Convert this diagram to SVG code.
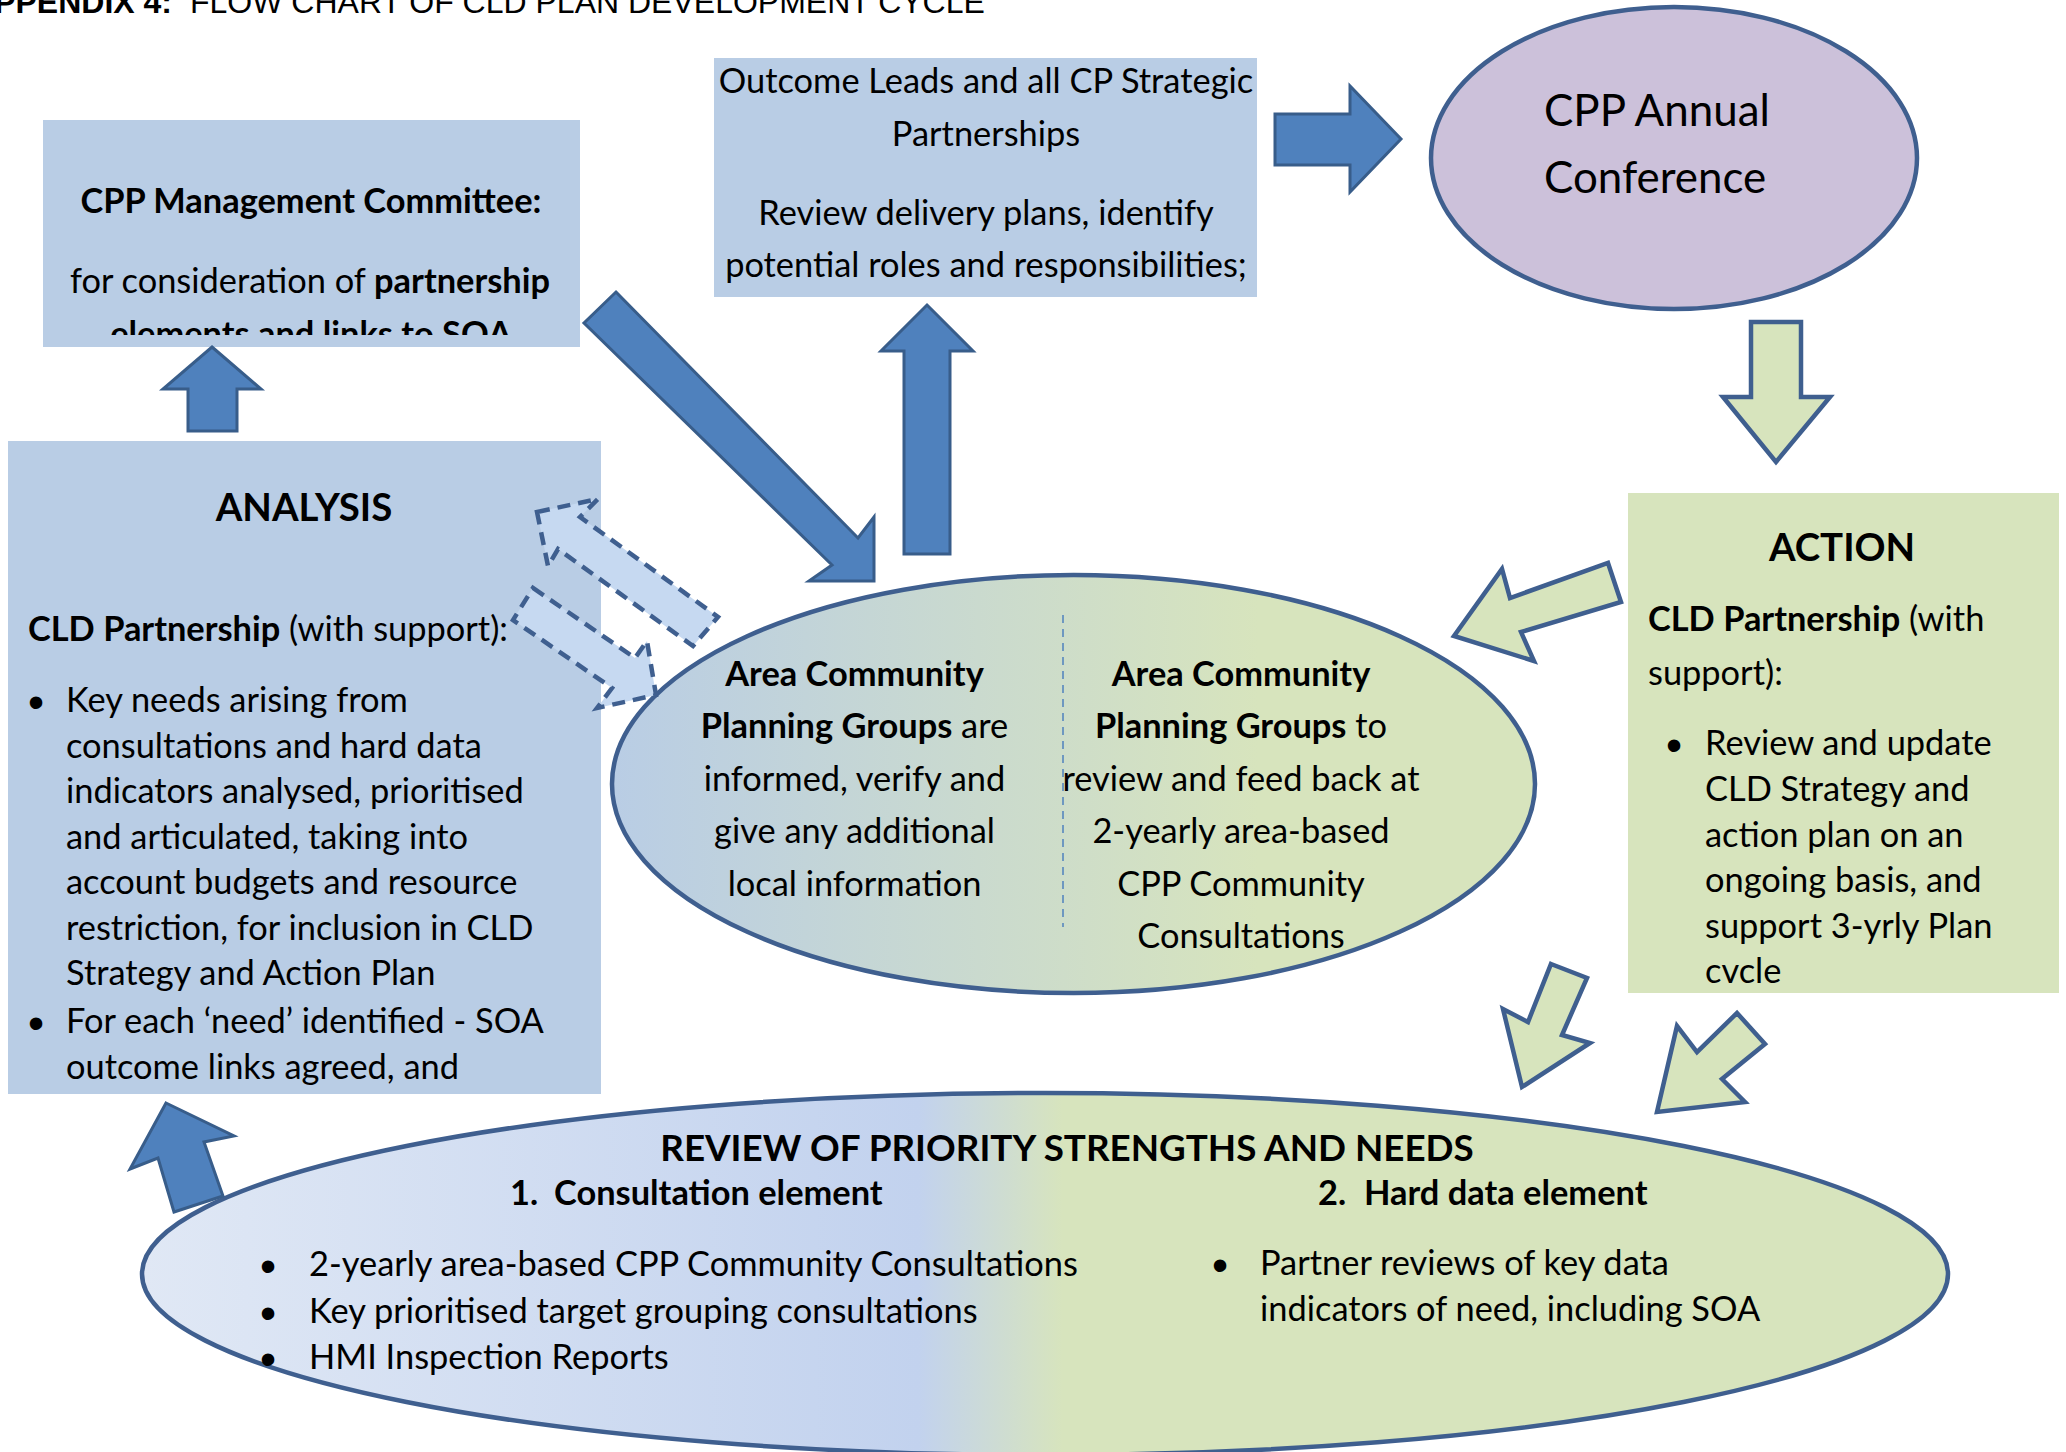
<svg xmlns="http://www.w3.org/2000/svg" width="2066" height="1452" viewBox="0 0 2066 1452">
<defs>
  <linearGradient id="gMid" x1="0" y1="0" x2="1" y2="0">
    <stop offset="0" stop-color="#B9CDE5"/>
    <stop offset="0.7" stop-color="#D7E4BD"/>
    <stop offset="1" stop-color="#D7E4BD"/>
  </linearGradient>
  <linearGradient id="gRev" x1="0" y1="0" x2="1" y2="0">
    <stop offset="0" stop-color="#E0E8F5"/>
    <stop offset="0.43" stop-color="#C2D2EE"/>
    <stop offset="0.51" stop-color="#D7E4BD"/>
    <stop offset="1" stop-color="#D7E4BD"/>
  </linearGradient>
  <clipPath id="clipMgmt"><rect x="43" y="120" width="537" height="215"/></clipPath>
</defs>
<style>
  .t{font-family:Lato,"Open Sans",sans-serif;font-size:34.4px;fill:#000}
  .b{font-weight:bold}
  .c{text-anchor:middle}
  .h{font-size:38.4px}
  .bul{font-family:"Liberation Sans",Arial,sans-serif;font-size:46px;text-anchor:middle}
  .boxb{fill:#B9CDE5}
  .boxg{fill:#D7E4BD}
  .ell{stroke:#3F5F8F;stroke-width:4.5}
  .ab{fill:#4F81BD;stroke:#385D8A;stroke-width:3}
  .ag{fill:#D7E4BD;stroke:#3F5F8F;stroke-width:4.5}
  .ad{fill:#C6D9F1;stroke:#3F5F8F;stroke-width:4.5;stroke-dasharray:13 8}
</style>
<rect width="2066" height="1452" fill="#FFFFFF"/>

<g id="title">
  <text x="172" y="13" font-family="'Liberation Sans',Arial,sans-serif" font-size="32" font-weight="bold" text-anchor="end">APPENDIX 4:</text>
  <text x="190" y="13" font-family="'Liberation Sans',Arial,sans-serif" font-size="32">FLOW CHART OF CLD PLAN DEVELOPMENT CYCLE</text>
</g>

<g id="mgmt">
  <rect class="boxb" x="43" y="120" width="537" height="227"/>
  <g clip-path="url(#clipMgmt)">
    <text class="t b c" x="311" y="213">CPP Management Committee:</text>
    <text class="t c" x="310" y="293">for consideration of <tspan class="b">partnership</tspan></text>
    <text class="t b c" x="311" y="346">elements and links to SOA</text>
  </g>
</g>

<g id="outcome">
  <rect class="boxb" x="714" y="58" width="543" height="239"/>
  <text class="t c" x="986" y="93">Outcome Leads and all CP Strategic</text>
  <text class="t c" x="986" y="146">Partnerships</text>
  <text class="t c" x="986" y="225">Review delivery plans, identify</text>
  <text class="t c" x="986" y="277">potential roles and responsibilities;</text>
</g>

<g id="conference">
  <ellipse class="ell" cx="1674" cy="158" rx="243" ry="151" fill="#CCC1DA"/>
  <text class="t" x="1544" y="126" style="font-size:43.9px">CPP Annual</text>
  <text class="t" x="1544" y="193" style="font-size:43.9px">Conference</text>
</g>

<g id="analysis">
  <rect class="boxb" x="8" y="441" width="593" height="653"/>
  <text class="t b c h" x="304" y="521">ANALYSIS</text>
  <text class="t" x="28" y="641"><tspan class="b">CLD Partnership</tspan> (with support):</text>
  <text class="bul" x="36" y="718">•</text>
  <text class="t" x="66" y="712">Key needs arising from</text>
  <text class="t" x="66" y="757.5">consultations and hard data</text>
  <text class="t" x="66" y="803">indicators analysed, prioritised</text>
  <text class="t" x="66" y="848.5">and articulated, taking into</text>
  <text class="t" x="66" y="894">account budgets and resource</text>
  <text class="t" x="66" y="939.5">restriction, for inclusion in CLD</text>
  <text class="t" x="66" y="985">Strategy and Action Plan</text>
  <text class="bul" x="36" y="1039">•</text>
  <text class="t" x="66" y="1033">For each ‘need’ identified - SOA</text>
  <text class="t" x="66" y="1079">outcome links agreed,  and</text>
</g>

<g id="action">
  <rect class="boxg" x="1628" y="493" width="431" height="500"/>
  <text class="t b c h" x="1842" y="561">ACTION</text>
  <text class="t" x="1648" y="631"><tspan class="b">CLD Partnership</tspan> (with</text>
  <text class="t" x="1648" y="685">support):</text>
  <text class="bul" x="1674" y="761">•</text>
  <text class="t" x="1705" y="755">Review and update</text>
  <text class="t" x="1705" y="801">CLD Strategy and</text>
  <text class="t" x="1705" y="847">action plan on an</text>
  <text class="t" x="1705" y="892">ongoing basis, and</text>
  <text class="t" x="1705" y="938">support 3-yrly Plan</text>
  <text class="t" x="1705" y="983">cvcle</text>
</g>

<g id="area-groups">
  <ellipse class="ell" cx="1073.5" cy="784" rx="461.5" ry="209" fill="url(#gMid)"/>
  <line x1="1063" y1="615" x2="1063" y2="927" stroke="#4F81BD" stroke-width="1.5" stroke-dasharray="8 6"/>
  <text class="t b c" x="854.5" y="686">Area Community</text>
  <text class="t c" x="854.5" y="738"><tspan class="b">Planning Groups</tspan> are</text>
  <text class="t c" x="854.5" y="791">informed, verify and</text>
  <text class="t c" x="854.5" y="843">give any additional</text>
  <text class="t c" x="854.5" y="896">local information</text>
  <text class="t b c" x="1241" y="686">Area Community</text>
  <text class="t c" x="1241" y="738"><tspan class="b">Planning Groups</tspan> to</text>
  <text class="t c" x="1241" y="791">review and feed back at</text>
  <text class="t c" x="1241" y="843">2-yearly area-based</text>
  <text class="t c" x="1241" y="896">CPP Community</text>
  <text class="t c" x="1241" y="948">Consultations</text>
</g>

<g id="review">
  <ellipse class="ell" cx="1045" cy="1274" rx="903" ry="181" fill="url(#gRev)"/>
  <text class="t b c" x="1067" y="1161" style="font-size:36.8px">REVIEW OF PRIORITY STRENGTHS AND NEEDS</text>
  <text class="t b" x="510" y="1205">1.</text>
  <text class="t b" x="554" y="1205">Consultation element</text>
  <text class="t b" x="1318" y="1205">2.</text>
  <text class="t b" x="1364" y="1205">Hard data element</text>
  <text class="bul" x="268" y="1282">•</text>
  <text class="t" x="309" y="1276">2-yearly area-based CPP Community Consultations</text>
  <text class="bul" x="268" y="1329">•</text>
  <text class="t" x="309" y="1323">Key prioritised target grouping consultations</text>
  <text class="bul" x="268" y="1375">•</text>
  <text class="t" x="309" y="1369">HMI Inspection Reports</text>
  <text class="bul" x="1220" y="1281">•</text>
  <text class="t" x="1260" y="1275">Partner reviews of key data</text>
  <text class="t" x="1260" y="1321">indicators of need, including SOA</text>
</g>

<g id="connectors">
  <polygon class="ab" points="212,347 261,389 237,389 237,431 188,431 188,389 163,389"/>
  <polygon class="ab" points="616,292 858,538 874,517 874,581 809,581 832,565 584,323"/>
  <polygon class="ab" points="927,305 973,351 950,351 950,554 904,554 904,351 881,351"/>
  <polygon class="ab" points="1275,114 1350,114 1350,86 1401,139 1350,192 1350,165 1275,165"/>
  <polygon class="ab" points="166,1103 234,1136 204,1142 223,1196 174,1212 158,1158 130,1169"/>
  <polygon class="ag" points="1751,322 1801,322 1801,397 1830,397 1776,462 1723,397 1751,397"/>
  <polygon class="ag" points="1608,563 1621,602 1521,632 1534,661 1454,636 1502,569 1510,598"/>
  <polygon class="ag" points="1551,964 1587,978 1562,1035 1590,1043 1522,1087 1503,1009 1528,1022"/>
  <polygon class="ag" points="1737,1013 1765,1044 1722,1079 1745,1102 1657,1112 1677,1026 1697,1052"/>
  <polygon class="ad" points="537,512 598,499 580,517 718,617 693,646 558,549 548,566"/>
  <polygon class="ad" points="533,588 635,658 647,641 656,695 597,708 612,688 513,620"/>
</g>
</svg>
